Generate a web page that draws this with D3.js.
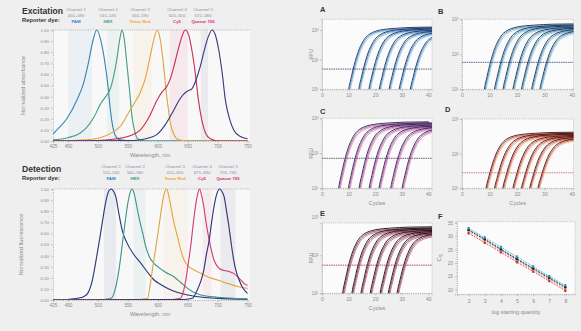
<!DOCTYPE html>
<html>
<head>
<meta charset="utf-8">
<script src="https://cdn.jsdelivr.net/npm/d3@7"></script>
<style>
  body { margin: 0; background: #efefef; }
  svg { display: block; font-family: "Liberation Sans", Arial, sans-serif; }
</style>
</head>
<body>
<svg id="chart" width="581" height="331"></svg>
<script>
// ---- data ----
const wavelengthTicks = [425, 450, 500, 550, 600, 650, 700, 750];
const normTicks = [0, 0.1, 0.2, 0.3, 0.4, 0.5, 0.6, 0.7, 0.8, 0.9, 1.0];

const channelNames = ['Channel 1', 'Channel 2', 'Channel 3', 'Channel 4', 'Channel 5'];
const excitationRanges = ['450–490', '515–535', '560–590', '620–650', '672–684'];
const detectionRanges = ['510–530', '560–580', '610–650', '675–690', '705–730'];
const dyeNames = ['FAM', 'HEX', 'Texas Red', 'Cy5', 'Quasar 705'];

// excitation (absorbance) spectra [nm, normalized]
const famExcitation = [[425,0.06],[428,0.08],[448,0.2],[465,0.37],[476,0.52],[484,0.7],[492,0.91],[498,1],[506,0.88],[515,0.58],[523,0.19],[529,0.05],[537,0.01],[560,0],[750,0]];
const hexExcitation = [[425,0.01],[450,0.03],[470,0.07],[481,0.12],[494,0.22],[504,0.33],[513,0.4],[520,0.46],[527,0.6],[532,0.75],[537,0.93],[540,1],[544,0.92],[548,0.72],[553,0.45],[557,0.22],[562,0.08],[566,0.02],[580,0],[750,0]];
const texasRedExcitation = [[425,0],[480,0.01],[504,0.03],[525,0.08],[537,0.13],[554,0.28],[563,0.36],[571,0.44],[579,0.56],[585,0.7],[592,0.88],[599,1],[604,0.92],[610,0.67],[614,0.45],[618,0.28],[622,0.14],[627,0.06],[635,0.01],[650,0],[750,0]];
const cy5Excitation = [[425,0],[500,0.005],[532,0.02],[555,0.05],[571,0.1],[586,0.22],[599,0.37],[607,0.44],[615,0.49],[621,0.56],[627,0.67],[633,0.8],[638,0.9],[646,1],[652,0.95],[657,0.82],[663,0.6],[668,0.37],[674,0.18],[680,0.07],[688,0.02],[700,0],[750,0]];
const quasarExcitation = [[425,0],[560,0.005],[580,0.02],[599,0.06],[613,0.15],[627,0.28],[636,0.37],[643,0.42],[650,0.45],[657,0.47],[664,0.55],[671,0.67],[677,0.8],[682,0.9],[691,1],[696,0.96],[702,0.82],[708,0.6],[713,0.37],[720,0.2],[727,0.1],[738,0.04],[750,0.02]];

// detection (emission) spectra [nm, normalized]
const famDetection = [[425,0],[450,0.005],[466,0.015],[476,0.03],[483,0.06],[490,0.16],[497,0.36],[503,0.55],[508,0.72],[513,0.88],[518,0.98],[522,1],[526,0.98],[530,0.93],[535,0.78],[541,0.62],[549,0.51],[560,0.41],[572,0.33],[583,0.25],[594,0.18],[605,0.14],[616,0.105],[632,0.07],[650,0.045],[675,0.025],[700,0.015],[750,0.006]];
const hexDetection = [[425,0],[510,0.005],[522,0.015],[530,0.12],[536,0.3],[541,0.51],[546,0.72],[550,0.87],[554,0.97],[557,1],[560,0.97],[563,0.9],[568,0.76],[575,0.6],[580,0.48],[586,0.39],[592,0.34],[600,0.3],[613,0.25],[627,0.21],[638,0.16],[650,0.105],[660,0.07],[672,0.045],[700,0.025],[727,0.015],[750,0.01]];
const texasRedDetection = [[425,0],[570,0.005],[583,0.015],[587,0.12],[591,0.27],[597,0.48],[602,0.66],[607,0.85],[611,0.96],[615,1],[618,0.95],[622,0.84],[627,0.7],[633,0.57],[638,0.46],[644,0.36],[652,0.3],[661,0.27],[672,0.24],[683,0.21],[700,0.18],[716,0.15],[735,0.12],[750,0.105]];
const cy5Detection = [[425,0],[625,0.005],[638,0.015],[643,0.08],[647,0.18],[651,0.33],[655,0.48],[659,0.67],[663,0.84],[667,0.96],[670,1],[673,0.95],[677,0.84],[681,0.69],[686,0.54],[690,0.44],[694,0.36],[700,0.3],[708,0.27],[717,0.26],[727,0.24],[737,0.19],[744,0.15],[750,0.13]];
const quasarDetection = [[425,0],[645,0.005],[658,0.015],[666,0.09],[672,0.17],[677,0.27],[681,0.4],[686,0.54],[690,0.7],[694,0.84],[699,0.96],[703,1],[707,0.98],[711,0.93],[715,0.8],[719,0.66],[723,0.5],[727,0.36],[731,0.26],[736,0.18],[742,0.11],[750,0.06]];

// amplification plots
const cycleTicks = [0, 10, 20, 30, 40];
const rfuTicks = [10, 100, 1000];
// cycle where each dilution's curve leaves the baseline
const startsA = [10.4, 14.2, 18.0, 21.9, 25.6, 29.4, 33.6];
const startsB = [8.5, 12.2, 15.3, 18.9, 22.0, 25.7, 28.7];
const startsC = [6.6, 10.3, 14.3, 18.1, 21.8, 26.2, 30.5];
const startsD = [9.1, 12.2, 15.2, 18.9, 22.0, 25.0, 28.0];
const startsE = [8.1, 11.6, 15.0, 18.5, 22.2, 25.3, 28.6];
// curve profile: [cycles after take-off, share of the total rise]
const ampShape = [[-0.6,-0.2],[0,0],[1,0.2],[2,0.38],[3,0.53],[4,0.65],[5,0.74],[6,0.81],[8,0.89],[10,0.93],[13,0.96],[18,0.98],[25,0.995],[34,1]];
const plateauDrop = [0, 0.03, 0.05, 0.08, 0.1, 0.12, 0.14];
const replicateShift = [0.35, 0, -0.35];
const replicateDrop = [0.06, 0.03, 0];

// standard curves
const logQuantity = [2, 3, 4, 5, 6, 7, 8];
const cqFAM = [32.5, 29.0, 25.3, 21.6, 18.0, 14.6, 11.0];
const cqHEX = [33.0, 29.5, 26.0, 22.3, 18.6, 15.0, 11.5];
const cqTexasRed = [31.8, 28.2, 24.6, 21.0, 17.3, 13.7, 10.2];
const cqCy5 = [31.2, 27.6, 24.0, 20.3, 16.8, 13.2, 9.6];
const cqQuasar = [32.3, 28.8, 25.0, 21.3, 17.8, 14.2, 10.8];
const cqTicks = [10, 15, 20, 25, 30, 35];

// ---- drawing ----
const svg = d3.select('#chart');
const gray = '#8a8a8a';
const sup = { 1: '¹', 2: '²', 3: '³', 4: '⁴' };

function styleAxis(g, size) {
  g.attr('font-size', size || 4.6).attr('font-family', null);
  g.select('.domain').attr('stroke', '#9a9a9a').attr('stroke-width', 0.7).attr('stroke-dasharray', '1,1.2');
  g.selectAll('.tick line').attr('stroke', '#9a9a9a').attr('stroke-width', 0.5);
  g.selectAll('.tick text').attr('fill', gray);
}

const excColors = ['#3b8fc0', '#4aa88c', '#f2b040', '#d8305e', '#3a3f85'];
const detColors = ['#2b3a80', '#3fa090', '#f2b040', '#e0407a', '#34367a'];
const dyeColors = ['#2f7fc8', '#3aa070', '#f5a623', '#e0305a', '#d0306a'];

function spectraPanel(p) {
  const x = d3.scaleLinear().domain([425, 750]).range([53, 247.5]);
  const y = d3.scaleLinear().domain([0, 1]).range([p.bottom, p.top]);
  const g = svg.append('g');
  const clipId = 'clip' + p.title;
  g.append('clipPath').attr('id', clipId).append('rect')
    .attr('x', 53).attr('y', p.top - 2).attr('width', 197).attr('height', p.bottom - p.top + 2);

  g.append('rect').attr('x', 53).attr('y', p.top).attr('width', 197)
    .attr('height', p.bottom - p.top).attr('fill', '#f8f8f8');

  // channel bands
  g.selectAll('rect.band').data(p.ranges).join('rect').attr('class', 'band')
    .attr('x', d => x(+d.split('–')[0]))
    .attr('width', d => x(+d.split('–')[1]) - x(+d.split('–')[0]))
    .attr('y', p.top).attr('height', p.bottom - p.top)
    .attr('fill', (d, i) => p.colors[i]).attr('opacity', 0.07);

  g.append('line').attr('x1', 53).attr('x2', 250).attr('y1', p.top).attr('y2', p.top)
    .attr('stroke', '#9a9a9a').attr('stroke-width', 0.7).attr('stroke-dasharray', '1,1.2');

  const line = d3.line().x(d => x(d[0])).y(d => y(d[1])).curve(d3.curveMonotoneX);
  const cg = g.append('g').attr('clip-path', `url(#${clipId})`);
  p.series.forEach((s, i) => {
    cg.append('path').attr('d', line(s)).attr('fill', 'none')
      .attr('stroke', p.colors[i]).attr('stroke-width', 1.1);
    cg.append('path').attr('d', line(s)).attr('fill', 'none')
      .attr('stroke', '#222').attr('stroke-width', 0.5).attr('opacity', 0.45)
      .attr('stroke-dasharray', '1,1.5');
  });

  const ya = g.append('g').attr('transform', 'translate(53,0)')
    .call(d3.axisLeft(y).tickValues(normTicks).tickFormat(d3.format('.2f')).tickSize(2).tickPadding(2));
  styleAxis(ya, 4.4);
  const xa = g.append('g').attr('transform', `translate(0,${p.bottom})`)
    .call(d3.axisBottom(x).tickValues(wavelengthTicks).tickSize(2).tickPadding(2));
  styleAxis(xa, 4.6);

  g.append('text').attr('x', 150).attr('y', p.bottom + 16).attr('text-anchor', 'middle')
    .attr('font-size', 5.6).attr('fill', gray).text('Wavelength, nm');
  g.append('text').attr('transform', `translate(${p.ylabX},${(p.top + p.bottom) / 2}) rotate(-90)`)
    .attr('text-anchor', 'middle').attr('font-size', 5.6).attr('fill', gray).text(p.ylabel);

  g.append('text').attr('x', 22).attr('y', p.titleY).attr('font-size', 8.6)
    .attr('font-weight', 'bold').attr('fill', '#333').text(p.title);
  g.append('text').attr('x', 22).attr('y', p.titleY + 8.3).attr('font-size', 5.8)
    .attr('font-weight', 'bold').attr('fill', '#333').text('Reporter dye:');

  channelNames.forEach((c, i) => {
    const t = g.append('text').attr('x', p.labelX[i]).attr('text-anchor', 'middle').attr('font-size', 4.3);
    t.append('tspan').attr('x', p.labelX[i]).attr('y', p.chanY).attr('fill', '#8890a4').text(c);
    t.append('tspan').attr('x', p.labelX[i]).attr('y', p.chanY + 5.5).attr('fill', '#8890a4').text(p.ranges[i]);
    t.append('tspan').attr('x', p.labelX[i]).attr('y', p.chanY + 11.5).attr('fill', dyeColors[i])
      .attr('font-weight', 'bold').text(dyeNames[i]);
  });
}

spectraPanel({
  title: 'Excitation', titleY: 14, chanY: 11, top: 30, bottom: 141, ylabX: 25,
  ylabel: 'Normalized absorbance', ranges: excitationRanges, colors: excColors,
  labelX: [76, 108, 140, 177, 203],
  series: [famExcitation, hexExcitation, texasRedExcitation, cy5Excitation, quasarExcitation]
});
spectraPanel({
  title: 'Detection', titleY: 172, chanY: 168, top: 189, bottom: 300, ylabX: 23,
  ylabel: 'Normalized fluorescence', ranges: detectionRanges, colors: detColors,
  labelX: [111, 135, 175, 202, 228],
  series: [famDetection, hexDetection, texasRedDetection, cy5Detection, quasarDetection]
});

// amplification panels
const ampPanels = [
  { id: 'A', starts: startsA, x0: 322, x1: 432, y0: 19.3, y1: 89.3, maxExp: 3.36, xMax: 41.4, rise: 2.1, threshold: 48,
    colors: ['#7ccbe8', '#2f78c8', '#1b2a5c'], thr: '#2a3560', letter: [320, 12], rfu: true, cycles: false },
  { id: 'B', starts: startsB, x0: 462, x1: 573.5, y0: 19.3, y1: 89.3, maxExp: 3, xMax: 40.6, rise: 1.87, threshold: 59,
    colors: ['#80c8e0', '#2a80b0', '#1a2a50'], thr: '#2a3a70', letter: [438, 14], rfu: false, cycles: false },
  { id: 'C', starts: startsC, x0: 322, x1: 432, y0: 118.3, y1: 188.3, maxExp: 3, xMax: 41.4, rise: 1.9, threshold: 72,
    colors: ['#e070b0', '#9a3a90', '#2a2050'], thr: '#403050', letter: [320, 114], rfu: true, cycles: true },
  { id: 'D', starts: startsD, x0: 462, x1: 573.5, y0: 119, y1: 188.3, maxExp: 3, xMax: 40.6, rise: 1.62, threshold: 28,
    colors: ['#f0a060', '#d02020', '#3a1010'], thr: '#d05a5a', letter: [445, 112], rfu: false, cycles: true },
  { id: 'E', starts: startsE, x0: 322, x1: 432, y0: 223, y1: 293.3, maxExp: 2.85, xMax: 41.4, rise: 1.75, threshold: 55,
    colors: ['#c04080', '#602030', '#1a0a10'], thr: '#a02045', letter: [320, 216], rfu: true, cycles: true }
];

ampPanels.forEach(p => {
  const x = d3.scaleLinear().domain([0, p.xMax]).range([p.x0, p.x1]);
  const y = d3.scaleLog().domain([10, Math.pow(10, p.maxExp)]).range([p.y1, p.y0]);
  const g = svg.append('g');
  g.append('clipPath').attr('id', 'clip' + p.id).append('rect')
    .attr('x', p.x0).attr('y', p.y0).attr('width', p.x1 - p.x0).attr('height', p.y1 - p.y0);
  g.append('rect').attr('x', p.x0).attr('y', p.y0).attr('width', p.x1 - p.x0).attr('height', p.y1 - p.y0)
    .attr('fill', '#fbfbfb').attr('stroke', '#a0a0a0').attr('stroke-width', 0.6).attr('stroke-dasharray', '1,1.2');

  const cg = g.append('g').attr('clip-path', `url(#clip${p.id})`);
  const line = d3.line().x(d => x(d[0])).y(d => y(d[1])).curve(d3.curveMonotoneX);
  p.starts.forEach((s, i) => {
    replicateShift.forEach((sh, r) => {
      const pts = ampShape.map(([o, f]) => [s + sh + o, Math.pow(10, 1 + (p.rise - plateauDrop[i] - replicateDrop[r]) * f)]);
      cg.append('path').attr('d', line(pts)).attr('fill', 'none')
        .attr('stroke', p.colors[r]).attr('stroke-width', r === 2 ? 0.9 : 0.7);
    });
  });
  cg.append('line').attr('x1', p.x0).attr('x2', p.x1).attr('y1', y(p.threshold)).attr('y2', y(p.threshold))
    .attr('stroke', p.thr).attr('stroke-width', 0.8).attr('stroke-dasharray', '1.5,0.8');

  const ya = g.append('g').attr('transform', `translate(${p.x0},0)`)
    .call(d3.axisLeft(y).tickValues(rfuTicks).tickFormat(d => '10' + sup[Math.round(Math.log10(d))]).tickSize(2).tickPadding(1.5));
  styleAxis(ya, 4.6);
  const xa = g.append('g').attr('transform', `translate(0,${p.y1})`)
    .call(d3.axisBottom(x).tickValues(cycleTicks).tickSize(2).tickPadding(2.5));
  styleAxis(xa, 5);

  g.append('text').attr('x', p.letter[0]).attr('y', p.letter[1]).attr('font-size', 7.5)
    .attr('font-weight', 'bold').attr('fill', '#333').text(p.id);
  if (p.rfu) {
    g.append('text').attr('transform', `translate(313,${(p.y0 + p.y1) / 2}) rotate(-90)`)
      .attr('text-anchor', 'middle').attr('font-size', 5.2).attr('fill', gray).text('RFU');
  }
  if (p.cycles) {
    g.append('text').attr('x', (p.x0 + p.x1) / 2).attr('y', p.y1 + 17).attr('text-anchor', 'middle')
      .attr('font-size', 5.6).attr('fill', gray).text('Cycles');
  }
});

// standard curve panel F
(function () {
  const x0 = 457, x1 = 575, y0 = 221.7, y1 = 294.3;
  const x = d3.scaleLinear().domain([1.28, 8.6]).range([x0, x1]);
  const y = d3.scaleLinear().domain([8.2, 35.5]).range([y1, y0]);
  const g = svg.append('g');
  g.append('rect').attr('x', x0).attr('y', y0).attr('width', x1 - x0).attr('height', y1 - y0)
    .attr('fill', '#fbfbfb').attr('stroke', '#a0a0a0').attr('stroke-width', 0.6).attr('stroke-dasharray', '1,1.2');

  const series = [
    { v: cqTexasRed, c: '#f0a040' },
    { v: cqCy5, c: '#e03050' },
    { v: cqHEX, c: '#30b0c8' },
    { v: cqFAM, c: '#2f6fc8' },
    { v: cqQuasar, c: '#202020' }
  ];
  const line = d3.line().x((d, i) => x(logQuantity[i])).y(d => y(d));
  series.forEach(s => {
    g.append('path').attr('d', line(s.v)).attr('fill', 'none').attr('stroke', s.c)
      .attr('stroke-width', 0.8).attr('stroke-dasharray', '2,1');
  });
  // replicate spread at each dilution
  logQuantity.forEach((q, i) => {
    const vals = series.map(s => s.v[i]);
    g.append('line').attr('x1', x(q)).attr('x2', x(q))
      .attr('y1', y(d3.min(vals) - 0.5)).attr('y2', y(d3.max(vals) + 0.5))
      .attr('stroke', '#1a1a1a').attr('stroke-width', 1.3);
  });
  series.forEach(s => {
    g.selectAll(null).data(s.v).join('rect')
      .attr('x', (d, i) => x(logQuantity[i]) - 1.2).attr('y', d => y(d) - 0.8)
      .attr('width', 2.4).attr('height', 1.6).attr('fill', s.c);
  });

  const ya = g.append('g').attr('transform', `translate(${x0},0)`)
    .call(d3.axisLeft(y).tickValues(cqTicks).tickSize(2).tickPadding(2));
  styleAxis(ya, 4.8);
  const xa = g.append('g').attr('transform', `translate(0,${y1})`)
    .call(d3.axisBottom(x).tickValues(logQuantity).tickSize(2).tickPadding(3));
  styleAxis(xa, 5.2);

  g.append('text').attr('x', 438).attr('y', 219).attr('font-size', 7.5)
    .attr('font-weight', 'bold').attr('fill', '#333').text('F');
  const cq = g.append('text').attr('transform', `translate(441,${(y0 + y1) / 2}) rotate(-90)`)
    .attr('text-anchor', 'middle').attr('font-size', 6).attr('fill', gray);
  cq.append('tspan').text('C');
  cq.append('tspan').attr('font-size', 4.5).attr('dy', 1.2).text('q');
  g.append('text').attr('x', (x0 + x1) / 2).attr('y', 314).attr('text-anchor', 'middle')
    .attr('font-size', 5.6).attr('fill', gray).text('log starting quantity');
})();
</script>
</body>
</html>
